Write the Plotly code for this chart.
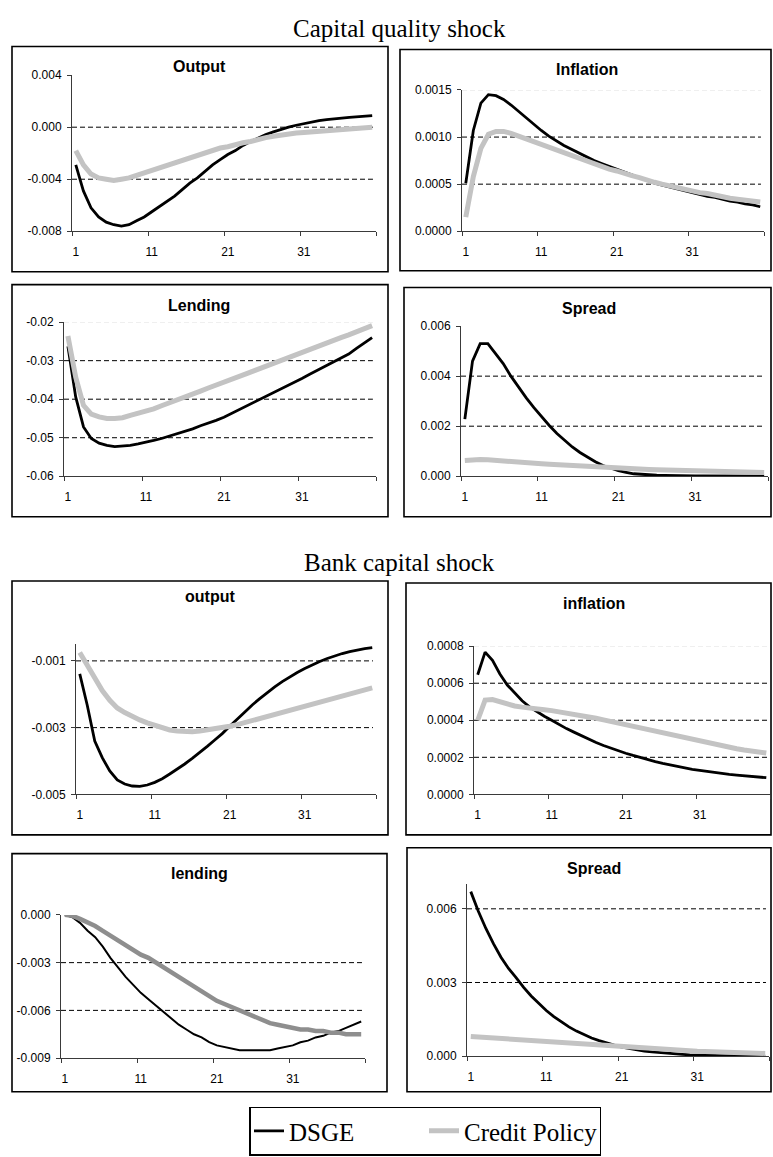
import plotly.graph_objects as go

W, H = 773, 1157

# ---------------- data ----------------
periods = list(range(1, 41))
x_tick_vals = [1, 11, 21, 31]
x_tick_labels = ["1", "11", "21", "31"]

# Capital quality shock
cq_output_dsge = [-0.0029, -0.0049, -0.0062, -0.0069, -0.0073, -0.0075, -0.0076, -0.0075, -0.0072, -0.0069,
                  -0.0065, -0.0061, -0.0057, -0.0053, -0.0048, -0.0043, -0.0039, -0.0034, -0.0029, -0.0025,
                  -0.0021, -0.0018, -0.0014, -0.0011, -0.0008, -0.00056, -0.00036, -0.00015, 0.0, 0.00015,
                  0.00028, 0.0004, 0.0005, 0.00058, 0.00066, 0.0007, 0.00076, 0.0008, 0.00086, 0.00089]
cq_output_credit = [-0.0018, -0.0029, -0.0036, -0.0039, -0.0040, -0.0041, -0.0040, -0.0039, -0.0037, -0.0035,
                    -0.0033, -0.0031, -0.0029, -0.0027, -0.0025, -0.0023, -0.0021, -0.0019, -0.0018, -0.0016,
                    -0.0015, -0.0013, -0.0012, -0.0011, -0.0009, -0.0008, -0.0007, -0.0006, -0.0005, -0.00045,
                    -0.0004, -0.00035, -0.0003, -0.00025, -0.0002, -0.00016, -0.00012, -0.00008, -0.00004, 0.0]

cq_infl_dsge = [0.00051, 0.00107, 0.00136, 0.00145, 0.00144, 0.0014, 0.00134, 0.00127, 0.0012, 0.00113,
                0.00107, 0.00101, 0.00096, 0.00091, 0.00087, 0.00083, 0.00079, 0.00075, 0.00072, 0.00069,
                0.00066, 0.00063, 0.0006, 0.00057, 0.00054, 0.00051, 0.00049, 0.00047, 0.00045, 0.00043,
                0.00041, 0.00039, 0.00037, 0.00036, 0.00034, 0.00032, 0.00031, 0.00029, 0.00028, 0.00026]
cq_infl_credit = [0.00015, 0.00058, 0.00088, 0.00103, 0.00106, 0.00106, 0.00104, 0.00101, 0.00098, 0.00095,
                  0.00092, 0.00089, 0.00086, 0.00083, 0.0008, 0.00077, 0.00074, 0.00071, 0.00069, 0.00066,
                  0.00064, 0.00061, 0.00059, 0.00057, 0.00054, 0.00052, 0.0005, 0.00048, 0.00046, 0.00045,
                  0.00043, 0.00041, 0.0004, 0.00038, 0.00037, 0.00035, 0.00034, 0.00033, 0.00032, 0.00031]

cq_lend_dsge = [-0.0263, -0.0394, -0.0472, -0.0502, -0.0514, -0.052, -0.0523, -0.0522, -0.052, -0.0516,
                -0.0512, -0.0507, -0.0502, -0.0496, -0.049, -0.0484, -0.0477, -0.0469, -0.0463, -0.0455,
                -0.0447, -0.0437, -0.0427, -0.0418, -0.0407, -0.0397, -0.0387, -0.0376, -0.0366, -0.0356,
                -0.0346, -0.0335, -0.0325, -0.0315, -0.0304, -0.0294, -0.0283, -0.0268, -0.0254, -0.024]
cq_lend_credit = [-0.0236, -0.0343, -0.0416, -0.0439, -0.0446, -0.045, -0.045, -0.0448, -0.0442, -0.0437,
                  -0.0432, -0.0425, -0.0417, -0.041, -0.0402, -0.0394, -0.0387, -0.0379, -0.0371, -0.0364,
                  -0.0356, -0.0348, -0.034, -0.0333, -0.0325, -0.0317, -0.031, -0.0302, -0.0294, -0.0287,
                  -0.0279, -0.0271, -0.0263, -0.0256, -0.0248, -0.024, -0.0233, -0.0225, -0.0217, -0.0209]

cq_spread_dsge = [0.00228, 0.0046, 0.0053, 0.0053, 0.0049, 0.0045, 0.004, 0.00355, 0.00313, 0.00274,
                  0.00237, 0.00203, 0.00171, 0.00142, 0.00117, 0.00095, 0.00075, 0.00058, 0.00043, 0.00032,
                  0.00022, 0.00016, 0.0001, 0.00008, 0.00005, 0.00004, 0.00003, 0.00002, 0.00002, 0.00001,
                  0.00001, 0.00001, 0.00001, 0.0, 0.0, 0.0, 0.0, 0.0, 0.0, 0.0]
cq_spread_credit = [0.00063, 0.00066, 0.00067, 0.00066, 0.00063, 0.00061, 0.00059, 0.00057, 0.00055, 0.00052,
                    0.0005, 0.00048, 0.00046, 0.00044, 0.00042, 0.0004, 0.00038, 0.00036, 0.00034, 0.00032,
                    0.00031, 0.0003, 0.00029, 0.00028, 0.00027, 0.00026, 0.00025, 0.00024, 0.00023, 0.00022,
                    0.00021, 0.0002, 0.0002, 0.00019, 0.00018, 0.00018, 0.00017, 0.00016, 0.00016, 0.00015]

# Bank capital shock
bc_output_dsge = [-0.00139, -0.00233, -0.0034, -0.0039, -0.0043, -0.00457, -0.00469, -0.00475, -0.00476, -0.00472,
                  -0.00464, -0.00453, -0.00439, -0.00425, -0.00409, -0.00392, -0.00375, -0.00356, -0.00337, -0.00318,
                  -0.00296, -0.00274, -0.00252, -0.00232, -0.00213, -0.00195, -0.00178, -0.00162, -0.00148, -0.00135,
                  -0.00123, -0.00112, -0.00102, -0.00093, -0.00085, -0.00078, -0.00072, -0.00067, -0.00063, -0.0006]
bc_output_credit = [-0.00075, -0.00115, -0.00154, -0.00189, -0.00218, -0.00241, -0.00255, -0.00267, -0.00277, -0.00286,
                    -0.00294, -0.00302, -0.00307, -0.0031, -0.00312, -0.00312, -0.0031, -0.00307, -0.00304, -0.003,
                    -0.00296, -0.00291, -0.00285, -0.00279, -0.00273, -0.00267, -0.00262, -0.00256, -0.00249, -0.00243,
                    -0.00237, -0.00231, -0.00225, -0.00219, -0.00213, -0.00207, -0.002, -0.00194, -0.00187, -0.00181]

bc_infl_dsge = [0.000646, 0.000768, 0.000723, 0.00065, 0.00059, 0.000545, 0.000505, 0.000472, 0.000445, 0.000422,
                0.0004, 0.000377, 0.000355, 0.000336, 0.000316, 0.000298, 0.00028, 0.000264, 0.000249, 0.000236,
                0.000222, 0.00021, 0.000198, 0.000187, 0.000177, 0.000167, 0.000158, 0.00015, 0.000142, 0.000135,
                0.000129, 0.000123, 0.000118, 0.000113, 0.000108, 0.000104, 0.0001, 0.000096, 0.000093, 0.00009]
bc_infl_credit = [0.0004, 0.000509, 0.000512, 0.0005, 0.000486, 0.000477, 0.000471, 0.000468, 0.000463, 0.000457,
                  0.000452, 0.000446, 0.000441, 0.000434, 0.000427, 0.00042, 0.000411, 0.000402, 0.000393, 0.000384,
                  0.000375, 0.000366, 0.000357, 0.000348, 0.000339, 0.00033, 0.000321, 0.000313, 0.000304, 0.000295,
                  0.000286, 0.000277, 0.000268, 0.000261, 0.000254, 0.000246, 0.000239, 0.000234, 0.000229, 0.000223]

bc_lend_dsge = [0.0, -0.00015, -0.0005, -0.001, -0.0014, -0.002, -0.0027, -0.0033, -0.0039, -0.0044,
                -0.0049, -0.0053, -0.0057, -0.0061, -0.0065, -0.0069, -0.0072, -0.0075, -0.0077, -0.008,
                -0.0082, -0.0083, -0.0084, -0.0085, -0.0085, -0.0085, -0.0085, -0.0085, -0.0084, -0.0083,
                -0.0082, -0.008, -0.0079, -0.0077, -0.0076, -0.0074, -0.0073, -0.0071, -0.0069, -0.0067]
bc_lend_credit = [0.0, -0.00006, -0.00025, -0.00045, -0.0007, -0.001, -0.0013, -0.0016, -0.0019, -0.0022,
                  -0.0025, -0.0027, -0.003, -0.0033, -0.0036, -0.0039, -0.0042, -0.0045, -0.0048, -0.0051,
                  -0.0054, -0.0056, -0.0058, -0.006, -0.0062, -0.0064, -0.0066, -0.0068, -0.0069, -0.007,
                  -0.0071, -0.0072, -0.0072, -0.0073, -0.0073, -0.0074, -0.0074, -0.0075, -0.0075, -0.0075]

bc_spread_dsge = [0.0067, 0.0059, 0.0052, 0.00458, 0.00403, 0.00357, 0.0032, 0.0028, 0.00245, 0.00214,
                  0.00186, 0.00161, 0.00139, 0.00119, 0.00102, 0.00087, 0.00074, 0.00063, 0.00053, 0.00045,
                  0.00037, 0.00031, 0.00026, 0.00021, 0.00017, 0.00014, 0.00011, 0.00009, 0.00007, 0.00005,
                  0.00004, 0.00003, 0.00002, 0.00002, 0.00001, 0.00001, 0.00001, 0.0, 0.0, 0.0]
bc_spread_credit = [0.0008, 0.00078, 0.00075, 0.00073, 0.0007, 0.00068, 0.00065, 0.00063, 0.0006, 0.00058,
                    0.00056, 0.00053, 0.00051, 0.00049, 0.00047, 0.00045, 0.00043, 0.00041, 0.00039, 0.00037,
                    0.00035, 0.00034, 0.00032, 0.0003, 0.00029, 0.00027, 0.00026, 0.00024, 0.00023, 0.00022,
                    0.0002, 0.00019, 0.00018, 0.00017, 0.00016, 0.00015, 0.00014, 0.00013, 0.00012, 0.00011]

# y-axis tick values / labels per panel
cq_output_ticks = [-0.008, -0.004, 0.0, 0.004]
cq_output_labels = ["-0.008", "-0.004", "0.000", "0.004"]
cq_infl_ticks = [0.0, 0.0005, 0.0010, 0.0015]
cq_infl_labels = ["0.0000", "0.0005", "0.0010", "0.0015"]
cq_lend_ticks = [-0.06, -0.05, -0.04, -0.03, -0.02]
cq_lend_labels = ["-0.06", "-0.05", "-0.04", "-0.03", "-0.02"]
cq_spread_ticks = [0.0, 0.002, 0.004, 0.006]
cq_spread_labels = ["0.000", "0.002", "0.004", "0.006"]
bc_output_ticks = [-0.005, -0.003, -0.001]
bc_output_labels = ["-0.005", "-0.003", "-0.001"]
bc_infl_ticks = [0.0, 0.0002, 0.0004, 0.0006, 0.0008]
bc_infl_labels = ["0.0000", "0.0002", "0.0004", "0.0006", "0.0008"]
bc_lend_ticks = [-0.009, -0.006, -0.003, 0.0]
bc_lend_labels = ["-0.009", "-0.006", "-0.003", "0.000"]
bc_spread_ticks = [0.0, 0.003, 0.006]
bc_spread_labels = ["0.000", "0.003", "0.006"]

# ---------------- layout helpers ----------------
def px_x(v):
    return v / W


def px_y(v):
    return 1 - v / H


SANS = "Liberation Sans, Arial, sans-serif"
SERIF = "Liberation Serif, Times New Roman, serif"
LIGHT = "#c3c3c3"

panels = [
    dict(title="Output", dsge=cq_output_dsge, credit=cq_output_credit, yrange=[-0.008, 0.004],
         ticks=cq_output_ticks, labels=cq_output_labels, grid=[-0.004, 0.0], top=None,
         plot=(72, 376, 69, 227), frame=(12, 388, 40, 268), tpos=(199, 60)),
    dict(title="Inflation", dsge=cq_infl_dsge, credit=cq_infl_credit, yrange=[0.0, 0.0015],
         ticks=cq_infl_ticks, labels=cq_infl_labels, grid=[0.0005, 0.0010], top=0.0015,
         plot=(462, 764, 84, 227), frame=(400, 771, 43, 267), tpos=(587, 63)),
    dict(title="Lending", dsge=cq_lend_dsge, credit=cq_lend_credit, yrange=[-0.06, -0.02],
         ticks=cq_lend_ticks, labels=cq_lend_labels, grid=[-0.05, -0.04, -0.03], top=-0.02,
         plot=(64, 376, 319, 475), frame=(12, 388, 281, 516), tpos=(199, 302)),
    dict(title="Spread", dsge=cq_spread_dsge, credit=cq_spread_credit, yrange=[0.0, 0.006],
         ticks=cq_spread_ticks, labels=cq_spread_labels, grid=[0.002, 0.004], top=None,
         plot=(461, 768, 323, 475), frame=(404, 771, 284, 516), tpos=(589, 305)),
    dict(title="output", dsge=bc_output_dsge, credit=bc_output_credit, yrange=[-0.005, -0.0005],
         ticks=bc_output_ticks, labels=bc_output_labels, grid=[-0.003, -0.001], top=None,
         plot=(76, 376, 645, 797), frame=(12, 388, 581, 838), tpos=(210, 597)),
    dict(title="inflation", dsge=bc_infl_dsge, credit=bc_infl_credit, yrange=[0.0, 0.0008],
         ticks=bc_infl_ticks, labels=bc_infl_labels, grid=[0.0002, 0.0004, 0.0006], top=0.0008,
         plot=(474, 770, 647, 797), frame=(406, 771, 583, 838), tpos=(594, 604)),
    dict(title="lending", dsge=bc_lend_dsge, credit=bc_lend_credit, yrange=[-0.009, 0.0],
         ticks=bc_lend_ticks, labels=bc_lend_labels, grid=[-0.006, -0.003], top=None,
         plot=(61, 365, 919, 1064), frame=(12, 387, 857, 1098), tpos=(199, 877),
         dsge_width=2.0, credit_color="#8e8e8e", credit_width=4.5),
    dict(title="Spread", dsge=bc_spread_dsge, credit=bc_spread_credit, yrange=[0.0, 0.007],
         ticks=bc_spread_ticks, labels=bc_spread_labels, grid=[0.003, 0.006], top=None,
         plot=(467, 769, 888, 1062), frame=(407, 771, 851, 1098), tpos=(594, 872)),
]

fig = go.Figure()
shapes = []
annotations = []
axis_color = "#3a3a3a"

for k, p in enumerate(panels, start=1):
    sfx = "" if k == 1 else str(k)
    xa, ya = "x" + sfx, "y" + sfx
    x0, x1, ytop, ybot = p["plot"]

    fig.add_trace(go.Scatter(
        x=periods, y=p["dsge"], mode="lines", name="DSGE",
        line=dict(color="black", width=p.get("dsge_width", 2.8)),
        xaxis=xa, yaxis=ya, showlegend=(k == 1), legendgroup="dsge", hoverinfo="skip"))
    fig.add_trace(go.Scatter(
        x=periods, y=p["credit"], mode="lines", name="Credit Policy",
        line=dict(color=p.get("credit_color", LIGHT), width=p.get("credit_width", 5)),
        xaxis=xa, yaxis=ya, showlegend=(k == 1), legendgroup="credit", hoverinfo="skip"))

    fig.layout["xaxis" + sfx] = dict(
        domain=[px_x(x0), px_x(x1)], anchor=ya, range=[0.5, 40.5],
        tickmode="array", tickvals=x_tick_vals, ticktext=x_tick_labels,
        ticks="", ticklabelstandoff=9,
        minor=dict(tickmode="array", tickvals=[0.5, 10.5, 20.5, 30.5, 40.5],
                   ticks="outside", ticklen=4, tickcolor=axis_color, tickwidth=1, showgrid=False),
        showline=True, linecolor=axis_color, linewidth=1,
        showgrid=False, zeroline=False, fixedrange=True,
        tickfont=dict(family=SANS, size=12, color="black"))
    fig.layout["yaxis" + sfx] = dict(
        domain=[px_y(ybot), px_y(ytop)], anchor=xa, range=p["yrange"],
        tickmode="array", tickvals=p["ticks"], ticktext=p["labels"],
        ticks="outside", ticklen=4, tickcolor=axis_color, tickwidth=1, ticklabelstandoff=3,
        showline=True, linecolor=axis_color, linewidth=1,
        showgrid=False, zeroline=False, fixedrange=True,
        tickfont=dict(family=SANS, size=12, color="black"))

    # dashed reference lines
    for g in p["grid"]:
        shapes.append(dict(type="line", xref=xa + " domain", yref=ya, x0=0, x1=0.99, y0=g, y1=g,
                           line=dict(color="black", width=1, dash="5px,3px"), layer="below"))
    if p["top"] is not None:
        shapes.append(dict(type="line", xref=xa + " domain", yref=ya, x0=0, x1=0.99,
                           y0=p["top"], y1=p["top"],
                           line=dict(color="#dedede", width=1, dash="5px,3px"), layer="below"))

    # panel frame
    fx0, fx1, fy0, fy1 = p["frame"]
    shapes.append(dict(type="rect", xref="paper", yref="paper",
                       x0=px_x(fx0), x1=px_x(fx1), y0=px_y(fy1), y1=px_y(fy0),
                       line=dict(color="black", width=1.6), fillcolor="rgba(0,0,0,0)", layer="below"))

    tx, ty = p["tpos"]
    annotations.append(dict(text="<b>%s</b>" % p["title"], xref="paper", yref="paper",
                            x=px_x(tx), y=px_y(ty), xanchor="center", yanchor="middle",
                            showarrow=False, font=dict(family=SANS, size=16, color="black")))

# section headings
for text, cy in [("Capital quality shock", 22), ("Bank capital shock", 562)]:
    annotations.append(dict(text=text, xref="paper", yref="paper", x=px_x(399), y=px_y(cy),
                            xanchor="center", yanchor="middle", showarrow=False,
                            font=dict(family=SERIF, size=25, color="black")))

fig.update_layout(
    width=W, height=H,
    margin=dict(l=0, r=0, t=0, b=0),
    paper_bgcolor="white", plot_bgcolor="white",
    shapes=shapes, annotations=annotations,
    hovermode=False,
    showlegend=True,
    legend=dict(orientation="h", x=px_x(249), y=px_y(1113), xanchor="left", yanchor="top",
                bordercolor="black", borderwidth=1.5, bgcolor="white",
                font=dict(family=SERIF, size=25, color="black"),
                entrywidth=130, entrywidthmode="pixels", tracegroupgap=0,
                itemclick=False, itemdoubleclick=False),
)

fig.write_html("out.html", config={"displayModeBar": False, "staticPlot": True})
